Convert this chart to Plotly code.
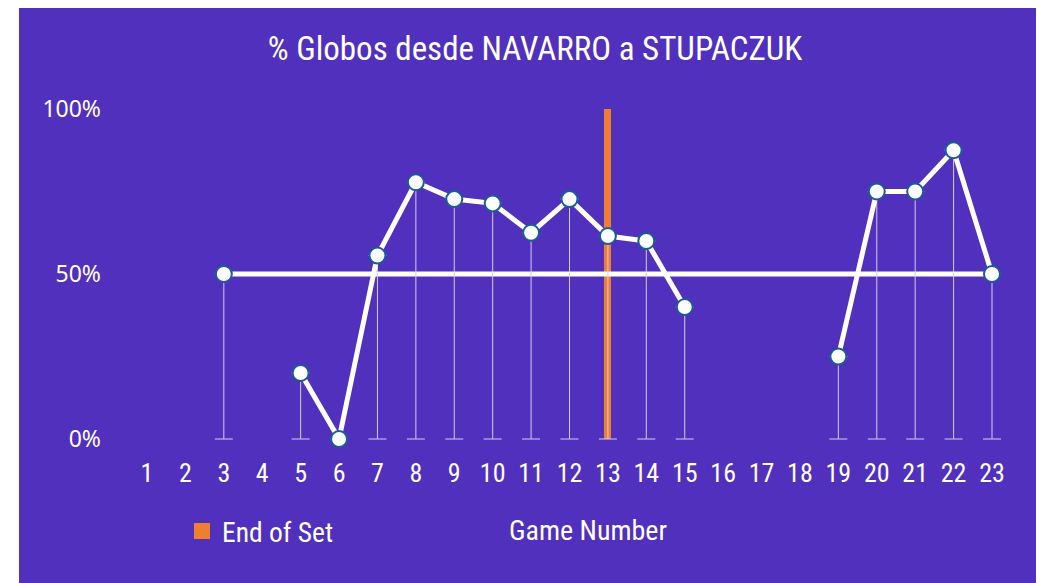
import plotly.graph_objects as go

games = list(range(1, 24))
pct_globos = [None, None, 50, None, 20, 0, 55.6, 77.8, 72.7, 71.4, 62.5, 72.7, 61.5,
              60, 40, None, None, None, 25, 75, 75, 87.5, 50]
avg_x = [3, 23]
avg_y = [50, 50]
end_of_set_x = [13]
end_of_set_y = [100]
tick_vals_y = [0, 50, 100]
tick_text_y = ["0%", "50%", "100%"]

PURPLE = "#5030BC"
ORANGE = "#EE7E30"
COND = "Liberation Sans Narrow, Roboto Condensed, Arial Narrow, Roboto, sans-serif"

OFF = 8  # page body margin
W, H = 1045 - OFF, 583 - OFF
L, R, T, B = 102, 20, 72, 128
pw = W - L - R
ph = H - T - B


def fx(p):  # target screen x -> figure px
    return p - OFF


def px_x(p):
    return (fx(p) - L) / pw


def px_y(p):
    return (H - B - (p - OFF)) / ph


X1, X23 = fx(147), fx(992)
Y0, Y100 = 439 - OFF, 109 - OFF
ux = (X23 - X1) / 22
uy = (Y0 - Y100) / 100

fig = go.Figure()

fig.add_trace(go.Bar(
    x=end_of_set_x, y=end_of_set_y, width=0.185,
    marker=dict(color=ORANGE, line=dict(width=0)),
    showlegend=False, hoverinfo="skip"))

fig.add_trace(go.Scatter(
    x=[None], y=[None], mode="markers", name="End of Set",
    marker=dict(symbol="square", size=18, color=ORANGE)))

fig.add_trace(go.Scatter(
    x=avg_x, y=avg_y, mode="lines",
    line=dict(color="white", width=5), showlegend=False, hoverinfo="skip"))

ex = [g for g, v in zip(games, pct_globos) if v is not None]
ey = [v for v in pct_globos if v is not None]
fig.add_trace(go.Scatter(
    x=ex, y=ey, mode="markers",
    marker=dict(size=1, color="rgba(0,0,0,0)"),
    error_y=dict(type="data", symmetric=False, array=[0] * len(ey), arrayminus=ey,
                 color="#D4CCF0", thickness=1, width=9),
    showlegend=False, hoverinfo="skip"))

fig.add_trace(go.Scatter(
    x=games, y=pct_globos, mode="lines+markers", connectgaps=False,
    line=dict(color="white", width=5),
    marker=dict(size=16, color="white", line=dict(color="#1A5C96", width=2)),
    showlegend=False))

fig.add_shape(type="rect", xref="paper", yref="paper",
              x0=px_x(19), x1=px_x(1036), y0=px_y(620), y1=px_y(5),
              fillcolor=PURPLE, line=dict(width=0), layer="below")

fig.add_annotation(text="Game Number", xref="paper", yref="paper",
                   x=px_x(588), y=px_y(530), showarrow=False,
                   xanchor="center", yanchor="middle",
                   font=dict(family=COND, size=28, color="white"))

fig.update_layout(
    width=W, height=H,
    margin=dict(l=L, r=R, t=T, b=B),
    paper_bgcolor="white",
    plot_bgcolor="rgba(0,0,0,0)",
    title=dict(text="% Globos desde NAVARRO a STUPACZUK", x=fx(535) / W,
               xanchor="center", y=1 - (48 - OFF) / H, yanchor="middle", yref="container",
               font=dict(family=COND, size=33, color="white")),
    xaxis=dict(range=[1 - (X1 - L) / ux, 23 + (W - R - X23) / ux],
               tickvals=games, ticktext=[str(g) for g in games],
               showgrid=False, zeroline=False, showline=False, ticks="",
               tickfont=dict(family=COND, size=26, color="white")),
    yaxis=dict(range=[-(H - B - Y0) / uy, 100 + (Y100 - T) / uy],
               tickvals=tick_vals_y, ticktext=tick_text_y,
               showgrid=False, zeroline=False, showline=False, ticks="",
               ticklabelstandoff=8,
               tickfont=dict(family="Noto Sans, Open Sans, sans-serif", size=23, color="white")),
    legend=dict(orientation="h", x=px_x(182), y=px_y(531), xanchor="left", yanchor="middle",
                bgcolor="rgba(0,0,0,0)",
                font=dict(family=COND, size=27.5, color="white")),
    showlegend=True,
    bargap=0,
)

fig.write_html("out.html")
